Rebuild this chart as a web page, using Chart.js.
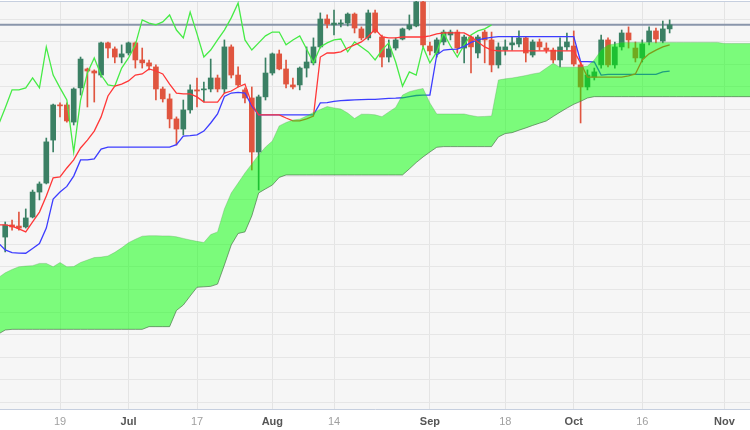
<!DOCTYPE html>
<html>
<head>
<meta charset="utf-8">
<script src="https://cdn.jsdelivr.net/npm/chart.js@4.4.0/dist/chart.umd.min.js"></script>
<style>
  html, body { margin: 0; padding: 0; background: #ffffff; }
  #wrap { width: 750px; height: 430px; }
</style>
</head>
<body>
<div id="wrap"><canvas id="ichimokuChart"></canvas></div>
<script>
// Daily candles (one per trading day), index 0 = 19 Jun
const candleStart = -8;
const opens = [149.33,149.87,149.82,149.78,150.22,151.33,151.73,153.64,
  155.20,155.20,154.44,155.96,156.80,156.71,156.53,157.96,157.69,157.33,
  157.51,157.96,157.20,157.07,156.89,155.91,155.47,154.58,154.13,154.98,
  155.87,155.87,155.91,156.40,155.91,157.78,156.53,155.87,155.51,153.11,
  155.56,156.62,157.47,156.80,156.09,156.09,156.84,157.07,157.78,159.02,
  158.76,158.80,158.84,159.24,158.58,158.18,159.29,158.22,157.33,157.73,
  158.13,158.58,158.71,159.78,157.82,157.51,158.00,158.31,158.44,157.73,
  158.22,157.51,158.44,158.09,156.98,157.64,157.87,157.91,158.18,157.42,
  158.00,157.73,157.64,157.20,157.78,157.82,156.98,156.00,156.44,156.98,
  158.09,156.98,157.78,158.40,157.73,157.29,158.00,158.49,158.04,158.58];
const highs = [150.00,150.09,150.44,150.58,151.42,151.78,153.73,155.24,
  155.29,155.29,155.96,157.33,156.84,156.76,158.00,158.00,157.78,157.87,
  158.00,158.00,157.73,157.20,156.98,156.00,155.69,154.67,155.42,156.09,
  156.40,156.22,157.24,156.53,158.09,157.87,156.89,155.96,156.00,155.64,
  157.29,157.51,157.64,157.20,156.40,156.89,157.78,158.18,159.29,159.20,
  159.42,158.98,159.29,159.29,158.67,159.42,159.42,158.31,158.09,158.18,
  158.62,159.20,159.85,159.85,158.00,158.18,158.53,158.53,158.53,158.31,
  158.27,158.31,158.53,158.44,157.96,158.09,158.22,158.49,158.22,158.09,
  158.13,157.96,157.73,158.18,158.40,158.49,157.11,156.76,156.84,158.31,
  158.18,158.00,158.53,158.67,158.00,158.09,158.67,158.62,158.93,158.98];
const lows = [148.67,149.64,149.64,149.73,150.18,150.98,151.69,153.11,
  154.67,154.44,154.31,155.64,155.11,155.33,156.44,157.29,157.07,157.07,
  157.42,156.84,156.84,156.76,155.42,155.33,154.18,153.42,153.87,154.84,
  155.11,155.33,155.78,155.78,155.73,156.40,156.00,155.29,152.31,151.42,
  155.42,156.53,156.76,155.96,155.91,155.87,156.44,156.98,157.73,158.62,
  158.31,158.67,158.71,158.40,158.09,158.09,158.40,156.89,157.11,157.64,
  158.09,158.53,158.67,157.78,157.42,157.33,157.87,158.09,157.51,157.07,
  156.62,157.29,157.07,156.67,156.84,157.42,157.64,157.78,157.11,157.33,
  157.64,157.51,157.07,156.89,157.64,156.93,154.40,155.87,156.31,156.84,
  156.89,156.84,157.64,157.73,157.11,157.11,157.87,157.96,157.96,158.40];
const closes = [149.87,149.78,149.73,150.18,151.33,151.69,153.56,155.20,
  155.16,154.49,155.91,157.24,156.71,156.62,157.96,157.73,157.33,157.47,
  157.96,157.20,157.07,156.93,155.91,155.47,154.58,154.13,154.98,155.87,
  155.82,155.91,156.40,155.91,157.78,156.53,156.09,155.51,153.11,155.56,
  156.62,157.47,156.80,156.13,156.00,156.84,157.11,157.78,159.02,158.80,
  158.84,158.84,159.24,158.62,158.18,159.29,158.44,157.33,157.69,158.09,
  158.58,158.76,159.78,157.87,157.60,158.09,158.44,158.44,157.73,158.22,
  157.78,158.22,158.09,156.98,157.78,157.78,157.96,158.18,157.51,158.00,
  157.78,157.64,157.20,157.78,158.00,157.02,156.00,156.53,156.67,158.09,
  156.98,157.78,158.40,158.09,157.29,157.91,158.49,158.13,158.58,158.76];

// Ichimoku lines, first value at index -9
const lineStart = -9;
const tenkan = [149.87,149.87,149.82,149.69,149.56,150.00,150.44,151.16,151.96,
  152.00,152.40,152.76,153.29,153.64,154.04,154.67,155.60,156.04,156.13,
  156.27,156.53,156.58,156.80,156.71,156.58,156.13,155.73,155.69,155.69,
  155.56,155.33,155.33,155.33,155.73,155.82,156.00,156.13,155.24,154.76,
  154.76,154.76,154.76,154.62,154.49,154.49,154.58,154.71,157.33,157.51,
  157.51,157.56,157.73,157.87,158.00,158.24,158.58,158.22,158.18,158.18,
  158.22,158.22,158.22,158.22,158.27,158.36,158.40,158.40,158.40,158.40,
  158.24,158.00,157.78,157.64,157.60,157.60,157.60,157.60,157.60,157.60,
  157.60,157.60,157.60,157.60,157.60,157.60,157.07,156.44,156.44,156.44,
  156.44,156.44,156.44,156.49,156.58,157.20,157.47,157.64,157.78,157.87];
const kijun = [149.07,148.76,148.64,148.62,148.61,148.82,149.04,149.73,151.02,
  151.33,151.58,152.04,152.76,152.76,152.80,153.24,153.33,153.33,153.33,
  153.33,153.33,153.33,153.33,153.33,153.33,153.33,153.44,153.82,153.84,
  153.87,154.04,154.40,154.80,155.58,155.73,155.76,155.73,155.16,154.76,
  154.76,154.76,154.76,154.76,154.76,154.76,154.76,154.76,155.29,155.30,
  155.36,155.39,155.41,155.43,155.44,155.45,155.45,155.47,155.49,155.50,
  155.52,155.57,155.62,155.64,155.64,157.42,157.64,157.67,157.68,157.80,
  157.98,158.09,158.16,158.20,158.24,158.24,158.24,158.24,158.24,158.24,
  158.24,158.24,158.24,158.24,158.24,158.24,157.13,157.13,157.11,156.53,
  156.56,156.56,156.56,156.56,156.56,156.56,156.56,156.56,156.67,156.70];
// lagging span, ends 26 bars before the last candle
const chikou = [154.31,155.07,155.87,155.87,155.96,156.40,155.96,157.78,156.53,
  155.96,155.42,153.11,155.42,156.62,157.29,156.53,156.09,156.04,156.84,
  157.29,157.87,158.98,158.84,158.76,158.89,159.20,158.53,158.18,159.33,
  158.36,157.33,157.64,158.09,158.53,159.07,159.73,158.09,157.64,157.96,
  158.27,158.44,158.44,157.87,158.09,158.27,157.69,157.07,157.78,157.96,
  158.09,158.13,157.56,158.00,157.78,157.56,157.20,157.64,157.96,157.11,
  156.04,156.67,156.53,157.78,157.07,157.56,158.40,157.82,157.33,157.87,
  158.31,158.49,158.58,158.76];
// cloud edges, running 26 bars past the last candle
const senkouA = [147.53,147.74,147.89,148.01,148.04,148.06,148.16,148.16,148.01,
  148.20,148.01,148.02,148.20,148.31,148.42,148.44,148.49,148.65,148.85,
  149.08,149.23,149.37,149.39,149.39,149.38,149.38,149.34,149.27,149.20,
  149.14,149.09,149.44,149.56,150.58,151.29,151.73,152.18,152.58,152.98,
  153.33,153.60,154.27,154.42,154.53,154.57,154.71,154.87,155.00,155.13,
  155.07,155.02,154.84,154.60,154.79,154.79,154.76,154.68,154.89,155.09,
  155.64,155.79,155.87,155.93,155.29,154.80,154.80,154.80,154.80,154.80,
  154.73,154.68,154.69,154.71,156.31,156.36,156.40,156.45,156.51,156.58,
  156.63,156.84,157.05,156.88,156.88,156.88,156.88,156.93,157.20,157.64,
  157.87,157.91,157.98,157.98,157.98,157.98,157.98,157.98,157.98,157.98,
  157.98,157.98,157.98,157.98,157.98,157.98,157.98,157.93,157.93,157.93,
  157.93,157.93];
const senkouB = [145.02,145.20,145.23,145.23,145.23,145.23,145.23,145.23,145.23,
  145.23,145.23,145.23,145.23,145.23,145.23,145.23,145.23,145.23,145.23,
  145.23,145.23,145.23,145.35,145.35,145.35,145.35,146.07,146.31,146.71,
  147.10,147.12,147.14,147.24,148.09,148.98,149.49,149.56,150.27,151.29,
  151.47,151.64,151.98,152.09,152.09,152.09,152.09,152.09,152.09,152.09,
  152.09,152.09,152.09,152.09,152.09,152.09,152.09,152.09,152.09,152.09,
  152.09,152.36,152.64,152.89,153.11,153.32,153.35,153.35,153.35,153.35,
  153.35,153.35,153.35,153.35,153.78,153.93,153.97,154.08,154.18,154.29,
  154.39,154.49,154.69,154.88,155.06,155.23,155.36,155.51,155.57,155.57,
  155.57,155.57,155.57,155.57,155.57,155.57,155.57,155.57,155.57,155.57,
  155.57,155.57,155.57,155.57,155.57,155.57,155.57,155.57,155.57,155.57,
  155.57,155.57];

// x-axis labels and the trading-day index each one sits on
const tickLabels = ['19', 'Jul', '17', 'Aug', '14', 'Sep', '18', 'Oct', '16', 'Nov'];
const tickIndex = [0, 10, 20, 31, 40, 54, 65, 75, 85, 97];
const monthLabels = ['Jul', 'Aug', 'Sep', 'Oct', 'Nov'];

const X_MIN = -8.76, X_MAX = 100.73;
const Y_MIN = 141.69, Y_MAX = 159.82;

const UP = '#3b8064';
const DOWN = '#e0553f';

const toPoints = (arr, start) => arr.map((v, k) => ({ x: start + k, y: v }));
const candleColor = ctx => (closes[ctx.dataIndex] >= opens[ctx.dataIndex] ? UP : DOWN);
const lastClose = closes[closes.length - 1];

// light grey plot area, white strip under it
const plotBackground = {
  id: 'plotBackground',
  beforeDraw(chart) {
    const { ctx, chartArea: a } = chart;
    ctx.save();
    ctx.fillStyle = '#f6f6f6';
    ctx.fillRect(a.left, a.top, a.right - a.left, a.bottom - a.top);
    ctx.restore();
  }
};

const gridLevels = [];
for (let v = 142; v <= 159; v++) gridLevels.push(v);

new Chart(document.getElementById('ichimokuChart'), {
  type: 'bar',
  data: {
    datasets: [
      {
        type: 'line',
        label: 'Senkou A',
        data: toPoints(senkouA, lineStart),
        borderColor: 'rgba(90,170,90,0.35)',
        borderWidth: 1,
        pointRadius: 0,
        fill: false,
        order: 0
      },
      {
        type: 'line',
        label: 'Senkou B',
        data: toPoints(senkouB, lineStart),
        borderColor: 'rgba(70,110,70,0.65)',
        borderWidth: 1,
        pointRadius: 0,
        backgroundColor: 'rgba(0,255,0,0.5)',
        fill: '-1',
        order: 0
      },
      {
        type: 'line',
        label: 'Tenkan',
        data: toPoints(tenkan, lineStart),
        borderColor: 'rgb(255,55,55)',
        borderWidth: 1.3,
        pointRadius: 0,
        order: 1
      },
      {
        type: 'line',
        label: 'Kijun',
        data: toPoints(kijun, lineStart),
        borderColor: 'rgb(60,60,255)',
        borderWidth: 1.3,
        pointRadius: 0,
        order: 1
      },
      {
        type: 'line',
        label: 'Chikou',
        data: toPoints(chikou, lineStart),
        borderColor: 'rgb(70,235,70)',
        borderWidth: 1.3,
        pointRadius: 0,
        order: 1
      },
      {
        label: 'Body',
        data: opens.map((o, k) => ({ x: candleStart + k, y: [o, closes[k]] })),
        backgroundColor: candleColor,
        barThickness: 5,
        minBarLength: 1,
        grouped: false,
        order: 2
      },
      {
        label: 'Wick',
        data: lows.map((l, k) => ({ x: candleStart + k, y: [l, highs[k]] })),
        backgroundColor: candleColor,
        barThickness: 1,
        grouped: false,
        order: 3
      },
      {
        type: 'line',
        label: 'Last',
        data: [{ x: X_MIN, y: lastClose }, { x: X_MAX, y: lastClose }],
        borderColor: '#8a96ab',
        borderWidth: 2,
        pointRadius: 0,
        order: 4
      }
    ]
  },
  options: {
    responsive: true,
    maintainAspectRatio: false,
    animation: false,
    layout: { padding: { top: 1, bottom: 0, left: 0, right: 0 } },
    plugins: {
      legend: { display: false },
      tooltip: { enabled: false }
    },
    scales: {
      x: {
        type: 'linear',
        min: X_MIN,
        max: X_MAX,
        offset: false,
        afterBuildTicks: s => { s.ticks = tickIndex.map(v => ({ value: v })); },
        afterFit: s => { s.height = 21; },
        ticks: {
          autoSkip: false,
          maxRotation: 0,
          padding: 6,
          callback: (v, i) => tickLabels[i],
          color: c => (monthLabels.includes(tickLabels[c.index]) ? '#555555' : '#a0a0a0'),
          font: c => ({
            family: 'Liberation Sans',
            size: 11,
            weight: monthLabels.includes(tickLabels[c.index]) ? 'bold' : 'normal'
          })
        },
        grid: { color: '#e4e4e4', drawTicks: false, offset: false },
        border: { display: true, color: '#c6cfdf', width: 1 }
      },
      xTop: {
        type: 'linear',
        position: 'top',
        min: X_MIN,
        max: X_MAX,
        ticks: { display: false },
        grid: { display: false, drawTicks: false },
        border: { display: true, color: '#c6cfdf', width: 1 }
      },
      y: {
        min: Y_MIN,
        max: Y_MAX,
        afterBuildTicks: s => { s.ticks = gridLevels.map(v => ({ value: v })); },
        ticks: { display: false },
        grid: { color: '#e6e6e6', drawTicks: false },
        border: { display: false }
      }
    }
  },
  plugins: [plotBackground]
});
</script>
</body>
</html>
